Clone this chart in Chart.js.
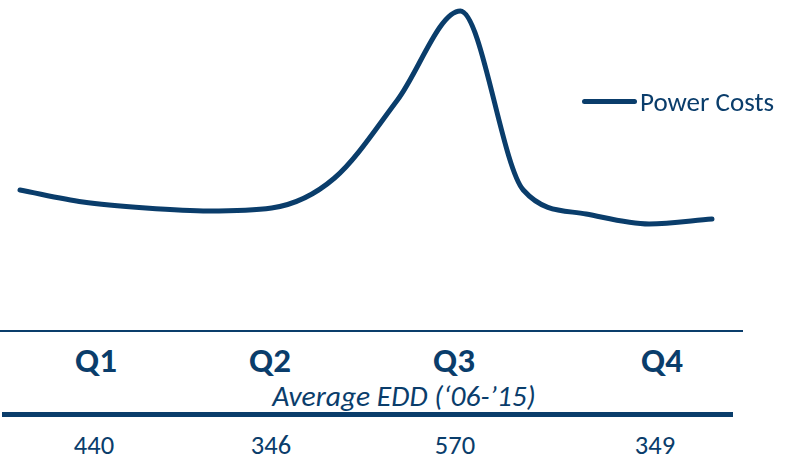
<!DOCTYPE html>
<html>
<head>
<meta charset="utf-8">
<script src="https://cdn.jsdelivr.net/npm/chart.js"></script>
<style>
  body { margin: 0; background: #fff; width: 790px; height: 468px; overflow: hidden; position: relative; font-family: Carlito, "Liberation Sans Narrow", "Open Sans", sans-serif; color: #0a3d6b; }
  #wrap { position: absolute; left: 0; top: 0; width: 790px; height: 320px; }
  .legend { position: absolute; left: 582px; top: 88px; height: 26px; display: flex; align-items: center; font-size: 27px; line-height: 1; }
  .legend span.sw { display: inline-block; width: 55px; height: 5px; border-radius: 3px; background: #0a3d6b; margin-right: 3px; }
  .hr1 { position: absolute; left: 0; top: 330px; width: 743px; height: 2px; background: #0a3d6b; }
  .hr2 { position: absolute; left: 2px; top: 412px; width: 731px; height: 5px; background: #0a3d6b; }
  .q { position: absolute; top: 343px; font-size: 35px; line-height: 1; font-weight: bold; transform: translateX(-50%); }
  .edd { position: absolute; top: 382px; left: 404px; transform: translateX(-50%); font-size: 29.5px; line-height: 1; font-style: italic; white-space: nowrap; }
  .num { position: absolute; top: 432px; font-size: 26.5px; line-height: 1; transform: translateX(-50%); }
</style>
</head>
<body>
<div id="wrap"><canvas id="myChart"></canvas></div>
<div class="legend"><span class="sw"></span><span id="legendText"></span></div>
<div class="hr1"></div>
<div id="bottom"></div>
<div class="hr2"></div>
<script>
const months = [1, 2, 3, 4, 5, 6, 7, 8, 9, 10, 11, 12];
const powerCosts = [110, 98, 92, 89, 92, 122, 200, 289, 110, 86, 76, 81];
const seriesName = 'Power Costs';
const quarters = ['Q1', 'Q2', 'Q3', 'Q4'];
const avgEdd = ['440', '346', '570', '349'];
const eddLabel = 'Average EDD (\u201806-\u201915)';

const quarterX = [96, 270, 454, 662];
const numX = [94, 271, 455, 655];
const navy = '#0a3d6b';

document.getElementById('legendText').textContent = seriesName;

const bottom = document.getElementById('bottom');
quarters.forEach((q, i) => {
  const d = document.createElement('div');
  d.className = 'q';
  d.style.left = quarterX[i] + 'px';
  d.textContent = q;
  bottom.appendChild(d);
  const n = document.createElement('div');
  n.className = 'num';
  n.style.left = numX[i] + 'px';
  n.textContent = avgEdd[i];
  bottom.appendChild(n);
});
const e = document.createElement('div');
e.className = 'edd';
e.textContent = eddLabel;
bottom.appendChild(e);

const ctx = document.getElementById('myChart').getContext('2d');
new Chart(ctx, {
  type: 'line',
  data: {
    datasets: [{
      label: seriesName,
      data: months.map((m, i) => ({ x: m, y: powerCosts[i] })),
      borderColor: navy,
      borderWidth: 5,
      borderCapStyle: 'round',
      pointRadius: 0,
      cubicInterpolationMode: 'monotone',
      fill: false,
      clip: false
    }]
  },
  options: {
    responsive: true,
    maintainAspectRatio: false,
    animation: false,
    layout: { padding: { left: 20, right: 78, top: 0, bottom: 20 } },
    plugins: { legend: { display: false }, tooltip: { enabled: false } },
    scales: {
      x: { type: 'linear', min: 1, max: 12, display: false },
      y: { min: 0, max: 300, display: false }
    }
  }
});
</script>
</body>
</html>
